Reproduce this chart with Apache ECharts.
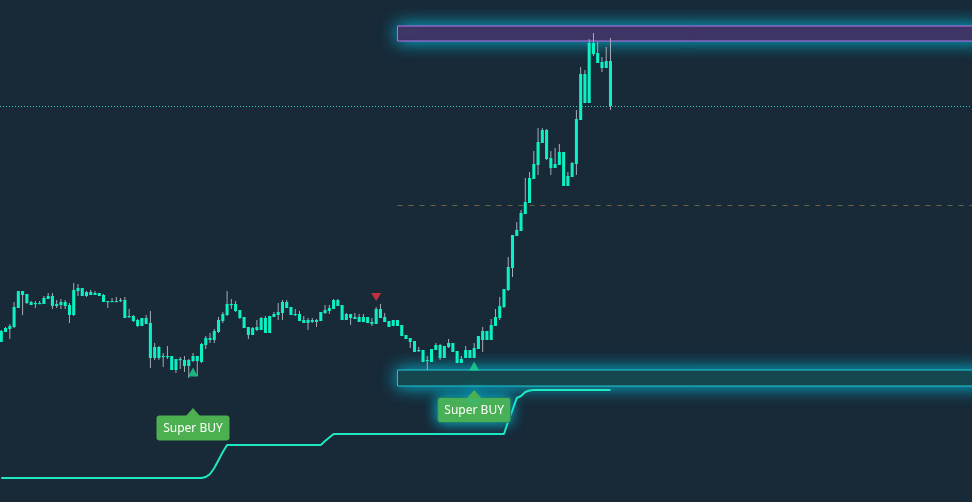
<!DOCTYPE html>
<html>
<head>
<meta charset="utf-8">
<script src="https://cdn.jsdelivr.net/npm/echarts@6/dist/echarts.min.js"></script>
<style>
html,body{margin:0;padding:0;background:#182938;overflow:hidden;}
#chart{width:972px;height:502px;}
</style>
</head>
<body>
<div id="chart"></div>
<script>
// ---- data (price units) ----
const opens = [160,170,173,175,194,211,208,200,198,198,
198,203,206,196,197,200,197,187,211,214,
206,210,207,209,207,200,201,200,201,202,
185,186,182,176,184,179,144,155,145,146,
146,132,143,142,136,141,146,140,157,162,
162,170,181,187,198,198,192,185,175,167,
172,172,184,169,185,187,189,200,195,187,
188,182,179,182,180,181,189,191,193,202,
197,182,188,183,185,180,185,178,178,193,
185,181,176,182,177,167,164,161,152,152,
141,140,152,157,144,155,159,151,139,144,
152,144,153,162,162,162,176,184,195,212,
234,266,271,288,299,323,337,359,372,344,
334,337,350,316,325,338,382,428,399,459,
449,440,434,441];
const closes = [171,174,176,195,211,207,199,197,199,199,
204,206,196,198,200,196,187,212,214,206,
210,207,209,206,200,201,200,201,202,184,
186,181,176,184,178,144,155,144,146,145,
132,143,142,136,142,146,141,158,164,164,
171,182,188,198,197,191,184,174,167,174,
175,184,169,186,188,190,200,194,187,188,
181,179,182,180,182,190,192,194,202,196,
182,188,184,185,180,185,179,180,193,184,
180,175,182,176,166,163,160,150,151,140,
142,153,157,144,156,159,150,139,143,152,
144,154,166,171,171,177,185,196,213,235,
267,272,289,300,324,338,360,372,343,334,
338,350,316,326,339,383,428,399,459,448,
439,434,441,396];
const lows = [160,170,163,174,194,187,198,197,194,198,
198,203,193,194,193,193,179,186,206,206,
205,207,207,206,200,194,200,200,200,184,
184,180,175,176,178,134,142,142,135,143,
132,129,133,130,124,140,126,139,153,159,
159,169,179,186,193,190,183,174,163,167,
171,172,169,169,185,182,182,194,187,186,
181,179,172,179,175,181,188,188,193,196,
182,182,177,183,180,180,179,176,178,184,
180,175,176,176,166,163,154,150,150,140,
132,140,152,142,144,154,150,139,139,144,
144,144,153,150,162,162,176,182,194,211,
225,266,271,288,299,323,327,359,342,327,
334,337,316,316,325,327,382,399,399,446,
439,430,434,392];
const highs = [172,175,178,200,211,211,208,201,201,201,
206,209,209,202,203,202,199,219,218,214,
211,212,211,209,208,201,204,205,204,205,
193,187,183,184,187,191,159,156,149,156,
146,143,145,146,143,149,146,159,166,169,
173,185,190,211,203,201,192,185,175,175,
182,185,186,186,190,199,202,202,195,193,
191,186,184,184,183,190,197,197,203,203,
197,189,188,189,188,188,185,184,195,198,
189,181,182,182,177,167,164,161,155,152,
146,153,159,158,156,163,159,151,146,156,
152,159,166,175,171,183,193,205,213,245,
267,280,292,324,330,351,374,374,373,351,
354,358,350,330,340,392,435,432,463,469,
460,445,455,464];
const supertrend = [24,24,24,24,24,24,24,24,24,24,24,24,24,24,24,24,
24,24,24,24,24,24,24,24,24,24,24,24,24,24,24,24,
24,24,24,24,24,24,24,24,24,24,24,24,24,24,24,24,
25,28,34,42,50,57,
57,57,57,57,57,57,57,57,57,57,57,57,57,57,57,57,57,57,57,57,57,57,
61,64.5,68,
68,68,68,68,68,68,68,68,68,68,68,68,68,68,68,68,68,68,68,68,
68,68,68,68,68,68,68,68,68,68,68,68,68,68,68,68,68,68,68,68,
81,92,104,106,110,111.5,
112,112,112,112,112,112,112,112,112,112,112,112,112,112,112,112,112,112,112];
const buyMarks = [[45,130],[111,136]];       // [candle index, price]
const sellMarks = [[88,205]];
const buyLabels = [[45,94,0],[111,112,1]];   // [candle index, tip price, glow]
const labelText = 'Super BUY';
const zoneStart = 93;
const premiumZone = [461,476];
const discountZone = [116,132];
const equilibrium = 297;
// plot area is 12px wider than the window so zones run off the right edge
const xMin = -0.305, xMax = 230.68;

// ---- build ----
const candleData = opens.map((o,i)=>[i,o,closes[i],lows[i],highs[i]]);
const stData = supertrend.map((v,i)=>[i,v]);
const lastClose = closes[closes.length-1];

function renderCandle(params, api){
  const i = api.value(0);
  const pO = api.coord([i, api.value(1)]);
  const pC = api.coord([i, api.value(2)]);
  const pL = api.coord([i, api.value(3)]);
  const pH = api.coord([i, api.value(4)]);
  const w = api.size([1,0])[0]*0.72;
  const x = pO[0];
  const top = Math.min(pO[1], pC[1]);
  let h = Math.abs(pO[1]-pC[1]); if (h < 1.2) h = 1.2;
  return {type:'group', children:[
    {type:'line', shape:{x1:x,y1:pH[1],x2:x,y2:pL[1]}, style:{stroke:'#a7adb4', lineWidth:1}},
    {type:'rect', shape:{x:x-w/2, y:top, width:w, height:h}, style:{fill:'#0cf0c4'}}
  ]};
}

function renderLabel(params, api){
  const p = api.coord([api.value(0), api.value(1)]);
  const glow = api.value(2) === 1;
  const x = p[0], y = p[1];
  const w = 73, h = 25, ph = 7.5, pw = 7;
  const sh = glow ? {shadowBlur:14, shadowColor:'rgba(0,225,255,0.85)'} : {};
  return {type:'group', children:[
    {type:'rect', shape:{x:x-w/2, y:y+ph, width:w, height:h, r:3},
      style:Object.assign({fill:'#4caf50', stroke: glow ? '#1f7d66' : null, lineWidth: glow?1:0}, sh)},
    {type:'polygon', shape:{points:[[x-pw,y+ph+0.5],[x,y],[x+pw,y+ph+0.5]]},
      style:Object.assign({fill:'#4caf50'}, sh)},
    {type:'text', x:x, y:y+ph+h/2+0.5, style:{text:labelText, fill:'#ffffff',
      font:'12px "Noto Sans"', align:'center', verticalAlign:'middle'}}
  ]};
}

const chart = echarts.init(document.getElementById('chart'), null, {renderer:'canvas', width:984, height:502});
chart.setOption({
  backgroundColor:'#182938',
  animation:false,
  grid:{left:0,right:0,top:0,bottom:0},
  xAxis:{type:'value', min:xMin, max:xMax, show:false},
  yAxis:{type:'value', min:0, max:502, show:false},
  series:[
    {
      type:'line', data:stData, showSymbol:false, z:2,
      lineStyle:{color:'#1ee8c2', width:2},
      markArea:{
        silent:true,
        data:[
          [{coord:[zoneStart, premiumZone[1]], itemStyle:{color:'#432c5e', borderColor:'#b772ec', borderWidth:1,
            shadowBlur:18, shadowColor:'rgba(0,205,235,0.95)'}},
           {coord:[xMax, premiumZone[0]]}],
          [{coord:[zoneStart, discountZone[1]], itemStyle:{color:'#163f45', borderColor:'#22c6cf', borderWidth:1,
            shadowBlur:18, shadowColor:'rgba(0,205,235,0.95)'}},
           {coord:[xMax, discountZone[0]]}]
        ]
      },
      markLine:{
        silent:true, symbol:'none', label:{show:false},
        data:[
          [{coord:[zoneStart, equilibrium], lineStyle:{color:'#6f6142', width:1, type:[5,6]}},
           {coord:[xMax, equilibrium]}],
          {yAxis:lastClose, lineStyle:{color:'#34c8c8', width:1, type:[1,2]}}
        ]
      }
    },
    {
      type:'custom', renderItem:renderCandle, data:candleData, z:5,
      encode:{x:0, y:[1,2,3,4]}
    },
    {
      type:'scatter', data:buyMarks, symbol:'triangle', symbolSize:[10,9], z:6,
      itemStyle:{color:'#1ad88e'}
    },
    {
      type:'scatter', data:sellMarks, symbol:'triangle', symbolRotate:180, symbolSize:[10,8], z:6,
      itemStyle:{color:'#e8343c'}
    },
    {
      type:'custom', renderItem:renderLabel, data:buyLabels, z:7,
      encode:{x:0, y:1}
    }
  ]
});
</script>
</body>
</html>
